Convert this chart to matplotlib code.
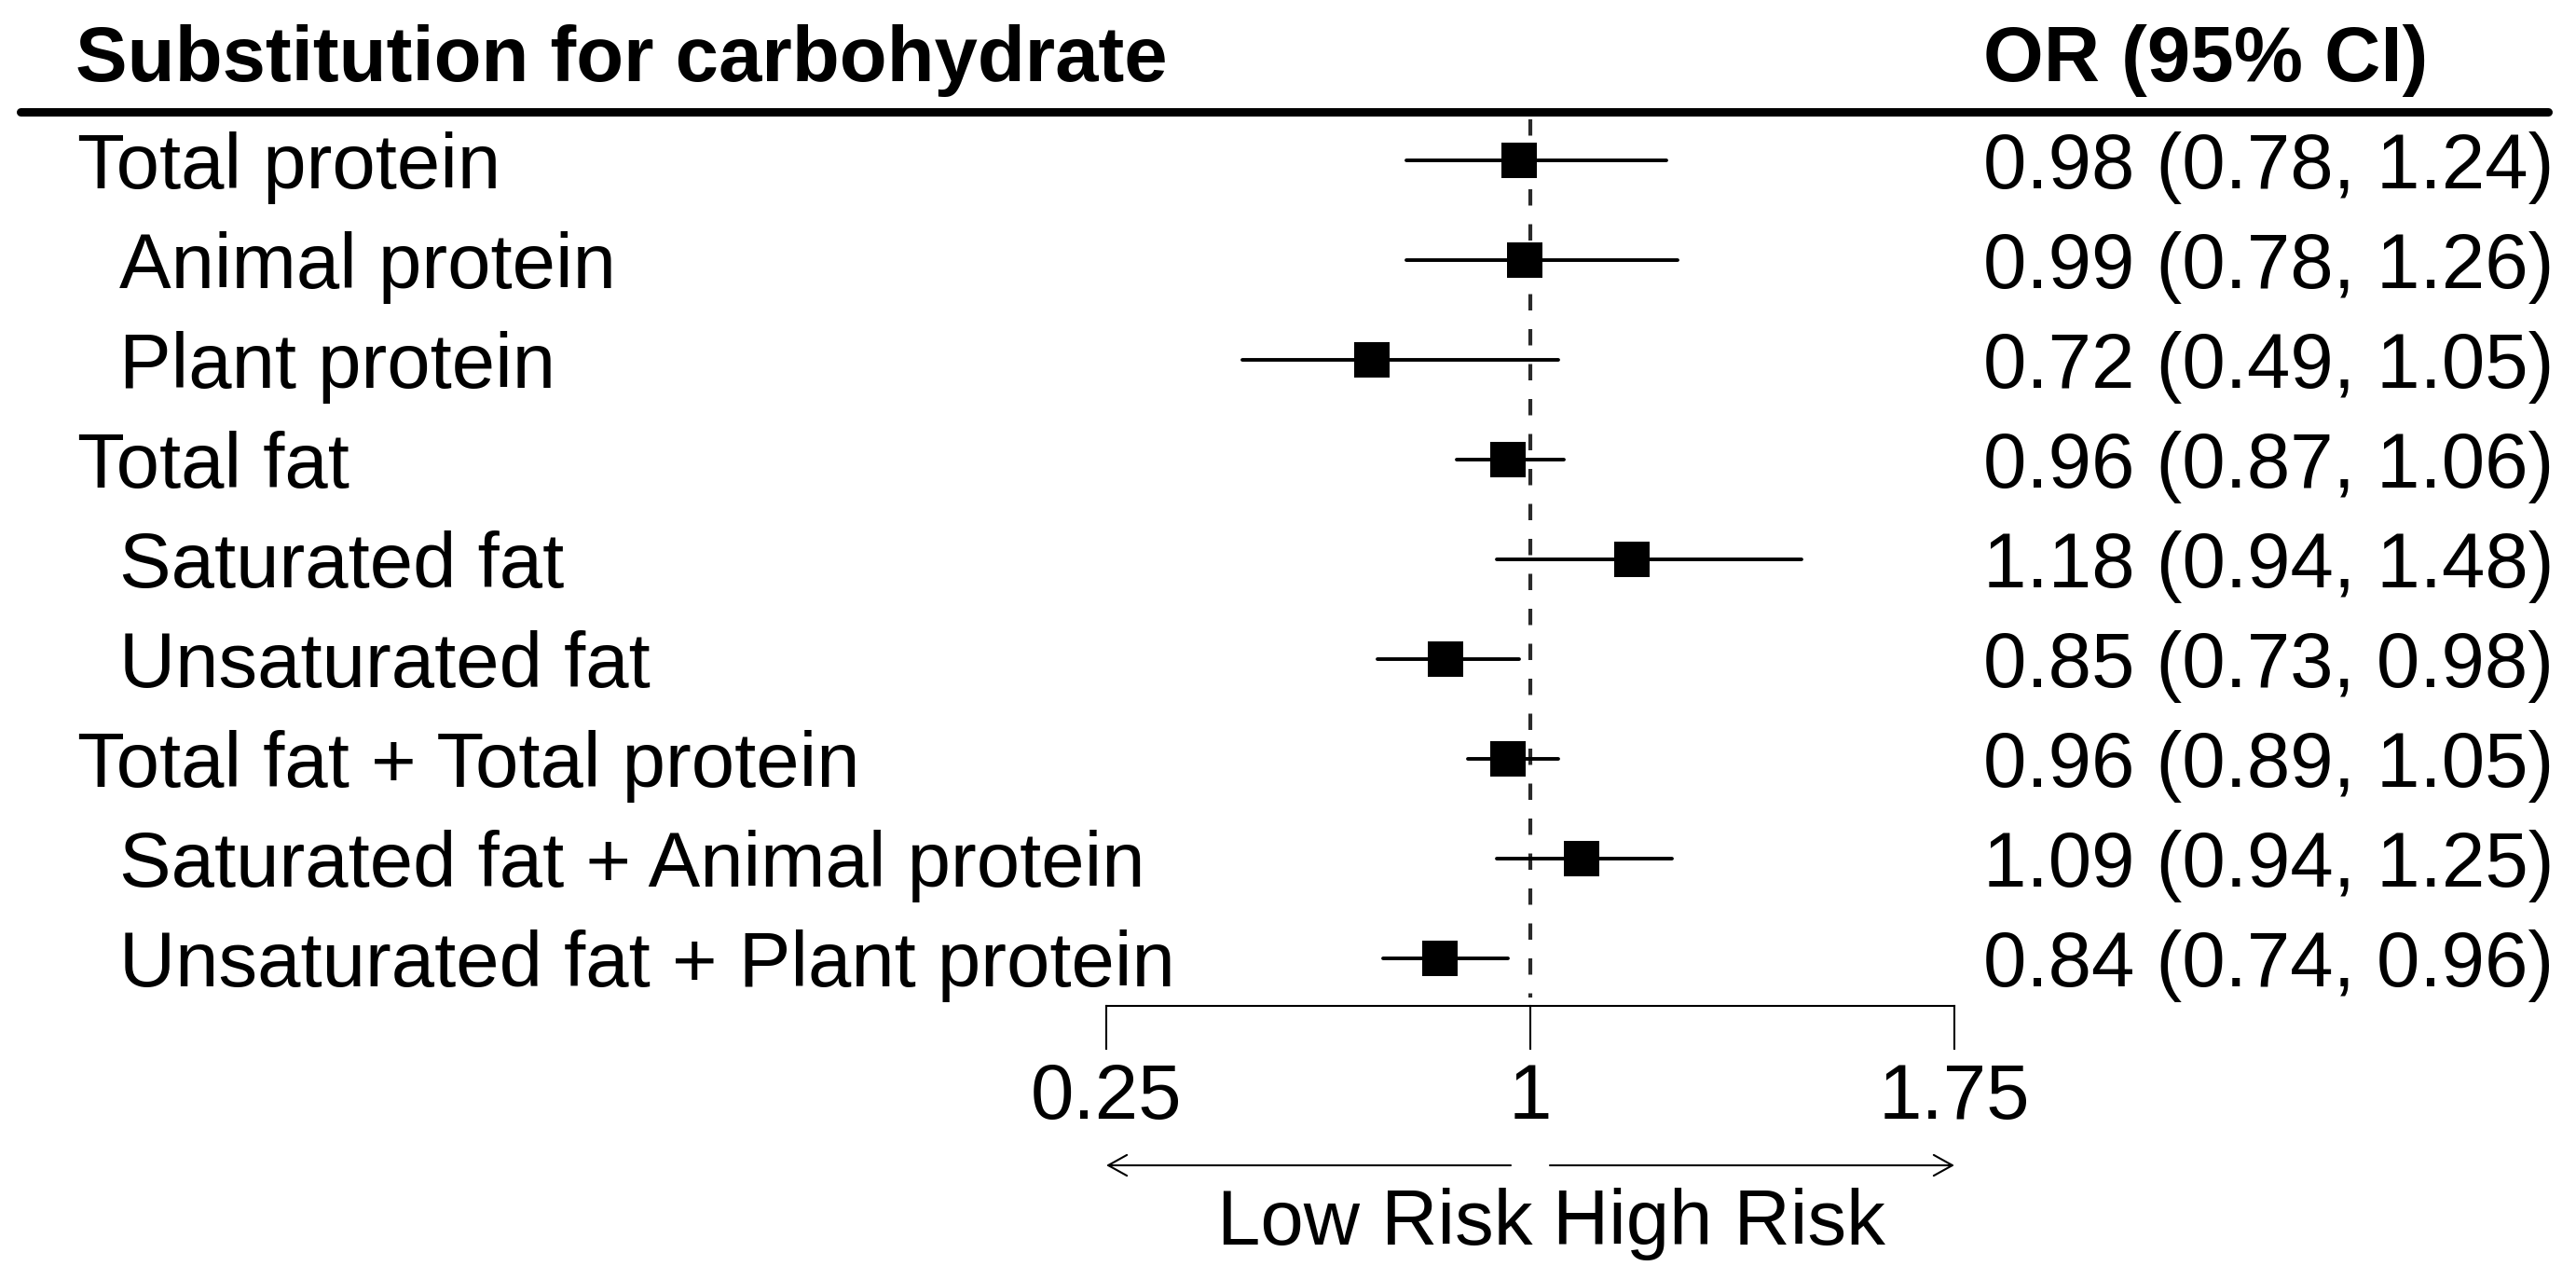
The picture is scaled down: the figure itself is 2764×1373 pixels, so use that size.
import matplotlib
matplotlib.use("Agg")
import matplotlib.pyplot as plt

# ---------------- data ----------------
labels = ["Total protein", "Animal protein", "Plant protein", "Total fat",
          "Saturated fat", "Unsaturated fat", "Total fat + Total protein",
          "Saturated fat + Animal protein", "Unsaturated fat + Plant protein"]
indent = [0, 1, 1, 0, 1, 1, 0, 1, 1]
or_vals = [0.98, 0.99, 0.72, 0.96, 1.18, 0.85, 0.96, 1.09, 0.84]
ci_low = [0.78, 0.78, 0.49, 0.87, 0.94, 0.73, 0.89, 0.94, 0.74]
ci_high = [1.24, 1.26, 1.05, 1.06, 1.48, 0.98, 1.05, 1.25, 0.96]
ticks = [0.25, 1, 1.75]
tick_labels = ["0.25", "1", "1.75"]
header_left = "Substitution for carbohydrate"
header_right = "OR (95% CI)"
low_label = "Low Risk"
high_label = "High Risk"
ref_value = 1

# ---------------- layout helpers (pixel geometry) ----------------
W, H = 2764, 1373
X_REF_PX = 1642.0      # pixel of OR = 1
PX_PER_UNIT = 606.67
ROW0_PX = 172.0
ROW_STEP = 107.0

def px2x(px):
    return ref_value + (px - X_REF_PX) / PX_PER_UNIT

def py2r(py):
    return (py - ROW0_PX) / ROW_STEP

FONT = "Liberation Sans"
FS = 60

fig = plt.figure(figsize=(W / 100, H / 100), dpi=100)
ax = fig.add_axes([0, 0, 1, 1])
ax.set_xlim(px2x(0), px2x(W))
ax.set_ylim(py2r(H), py2r(0))
ax.axis("off")

rows = list(range(len(labels)))

# header
ax.text(px2x(81), py2r(87), header_left, fontsize=FS, fontweight="bold",
        family=FONT, ha="left", va="baseline")
ax.text(px2x(2128), py2r(87), header_right, fontsize=FS, fontweight="bold",
        family=FONT, ha="left", va="baseline")
ax.plot([px2x(22), px2x(2734)], [py2r(120), py2r(120)], color="black",
        lw=6.5, solid_capstyle="round")

# reference dashed line
ax.plot([ref_value, ref_value], [py2r(128), py2r(1070)], color="#2a2a2a",
        lw=3.0, linestyle=(0, (4.2, 4.8)))

# rows
for r, lab, ind, o, lo, hi in zip(rows, labels, indent, or_vals, ci_low, ci_high):
    ax.plot([lo, hi], [r, r], color="black", lw=2.8, solid_capstyle="round")
    ax.plot([o], [r], marker="s", markersize=27.5, color="black",
            markeredgewidth=0)
    xpx = 128 if ind else 83
    ax.text(px2x(xpx), r + 30 / ROW_STEP, lab, fontsize=FS, family=FONT,
            ha="left", va="baseline")
    ax.text(px2x(2128), r + 30 / ROW_STEP, f"{o:.2f} ({lo:.2f}, {hi:.2f})",
            fontsize=FS, family=FONT, ha="left", va="baseline")

# bottom axis
axis_y = py2r(1079)
tick_end = py2r(1125)
ax.plot([ticks[0], ticks[-1]], [axis_y, axis_y], color="black", lw=1.5)
for t, tl in zip(ticks, tick_labels):
    ax.plot([t, t], [axis_y, tick_end], color="black", lw=1.5)
    ax.text(t, py2r(1200), tl, fontsize=FS, family=FONT, ha="center",
            va="baseline")

# risk arrows
arr_y = py2r(1250)
aprops = dict(arrowstyle="->,head_length=0.72,head_width=0.4",
              mutation_scale=20, lw=1.5, color="black", shrinkA=0, shrinkB=0)
ax.annotate("", xy=(ticks[0], arr_y), xytext=(px2x(1621), arr_y),
            arrowprops=aprops)
ax.annotate("", xy=(ticks[-1], arr_y), xytext=(px2x(1663), arr_y),
            arrowprops=aprops)
ax.text(px2x(1645), py2r(1335), low_label, fontsize=FS, family=FONT,
        ha="right", va="baseline")
ax.text(px2x(1666), py2r(1335), high_label, fontsize=FS, family=FONT,
        ha="left", va="baseline")

fig.savefig("out.png", dpi=100, facecolor="white")
